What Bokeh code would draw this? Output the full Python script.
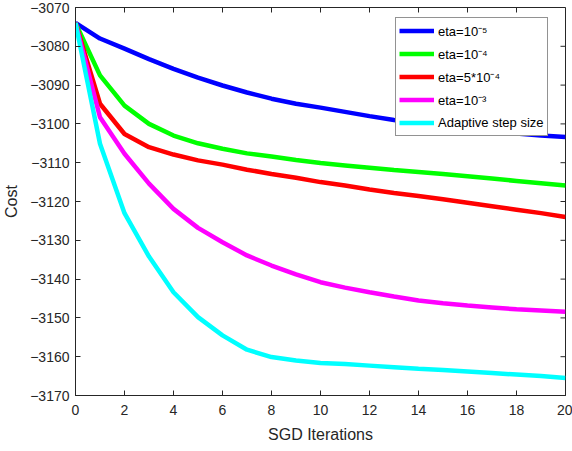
import math
from bokeh.plotting import figure
from bokeh.models import Legend, LegendItem, FixedTicker, Range1d
from bokeh.embed import file_html
from bokeh.resources import INLINE

iterations = list(range(21))
cost_eta_1e5 = [-3074.0, -3078.0, -3080.6, -3083.3, -3085.8, -3088.1, -3090.1, -3091.9, -3093.5,
                -3094.8, -3095.8, -3096.9, -3098.0, -3099.0, -3099.9, -3100.7, -3101.4, -3102.0,
                -3102.5, -3103.0, -3103.4]
cost_eta_1e4 = [-3074.0, -3087.5, -3095.3, -3100.0, -3103.0, -3105.0, -3106.4, -3107.6, -3108.4,
                -3109.3, -3110.1, -3110.7, -3111.3, -3111.9, -3112.4, -3112.9, -3113.5, -3114.1,
                -3114.7, -3115.3, -3115.9]
cost_eta_5e4 = [-3074.0, -3094.8, -3102.6, -3106.0, -3107.9, -3109.4, -3110.5, -3111.8, -3112.9,
                -3113.9, -3115.0, -3115.9, -3116.9, -3117.8, -3118.6, -3119.4, -3120.3, -3121.2,
                -3122.1, -3123.0, -3124.0]
cost_eta_1e3 = [-3074.0, -3098.3, -3107.7, -3115.4, -3121.9, -3126.8, -3130.5, -3133.9, -3136.5,
                -3138.8, -3140.8, -3142.2, -3143.4, -3144.5, -3145.5, -3146.2, -3146.8, -3147.3,
                -3147.8, -3148.1, -3148.4]
cost_adaptive = [-3074.0, -3105.1, -3123.0, -3134.2, -3143.4, -3149.8, -3154.5, -3158.2, -3160.1,
                 -3161.0, -3161.6, -3161.9, -3162.3, -3162.7, -3163.1, -3163.4, -3163.8, -3164.2,
                 -3164.6, -3165.0, -3165.5]

series_labels = ["eta=10\u207b\u2075", "eta=10\u207b\u2074", "eta=5*10\u207b\u2074",
                 "eta=10\u207b\u00b3", "Adaptive step size"]
series_colors = ["#0000FF", "#00FF00", "#FF0000", "#FF00FF", "#00FFFF"]
series_values = [cost_eta_1e5, cost_eta_1e4, cost_eta_5e4, cost_eta_1e3, cost_adaptive]

x_ticks = list(range(0, 21, 2))
y_ticks = list(range(-3170, -3069, 10))
x_min, x_max = 0, 20
y_min, y_max = -3170, -3070

FONT = "Liberation Sans"
AX = "#262626"

p = figure(width=572, height=451, output_backend="svg", toolbar_location=None,
           x_range=Range1d(x_min, x_max), y_range=Range1d(y_min, y_max),
           min_border_left=75, min_border_right=7, min_border_top=7, min_border_bottom=56,
           x_axis_label="SGD Iterations", y_axis_label="Cost")
p.grid.visible = False
p.outline_line_color = AX
p.outline_line_width = 1
p.background_fill_color = "white"
p.border_fill_color = "white"

for ax in (p.xaxis[0], p.yaxis[0]):
    ax.major_tick_in = 5
    ax.major_tick_out = 0
    ax.minor_tick_in = 0
    ax.minor_tick_out = 0
    ax.axis_line_color = AX
    ax.major_tick_line_color = AX
    ax.major_label_text_font = FONT
    ax.major_label_text_font_size = "14px"
    ax.major_label_text_color = AX
    ax.axis_label_text_font = FONT
    ax.axis_label_text_font_size = "16px"
    ax.axis_label_text_font_style = "normal"
    ax.axis_label_text_color = AX

p.xaxis[0].ticker = FixedTicker(ticks=x_ticks)
p.yaxis[0].ticker = FixedTicker(ticks=y_ticks)
p.xaxis[0].major_label_standoff = 9
p.xaxis[0].axis_label_standoff = 8
p.yaxis[0].major_label_standoff = 6
p.yaxis[0].axis_label_standoff = 7

# inward tick marks on the top and right edges of the box (MATLAB "box on" style)
p.ray(x=x_ticks, y=[y_max] * len(x_ticks), length=5, length_units="screen",
      angle=-math.pi / 2, line_color=AX, line_width=1)
p.ray(x=[x_max] * len(y_ticks), y=y_ticks, length=5, length_units="screen",
      angle=math.pi, line_color=AX, line_width=1)

items = []
for lab, col, vals in zip(series_labels, series_colors, series_values):
    r = p.line(iterations, vals, line_color=col, line_width=4.5)
    items.append(LegendItem(label=lab, renderers=[r]))

legend = Legend(items=items, location=(320, 259), glyph_width=35, glyph_height=19,
                label_height=19, spacing=4, padding=3, margin=0, label_standoff=4,
                label_text_font=FONT, label_text_font_size="13px", label_text_color="black",
                border_line_color=AX, border_line_width=1, background_fill_alpha=1.0)
p.add_layout(legend, "center")

open("out.html", "w").write(file_html(p, INLINE))
